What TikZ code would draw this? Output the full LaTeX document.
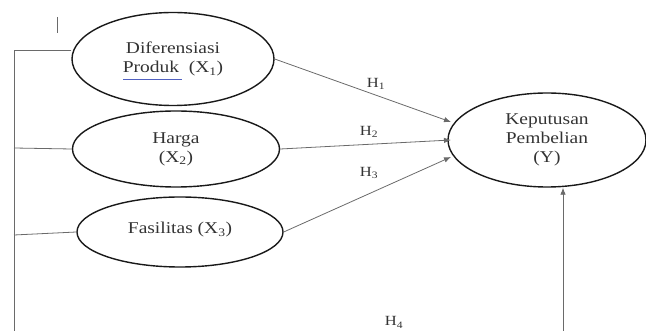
\documentclass[tikz,border=0pt]{standalone}
\usepackage{fontspec}
\setmainfont{Liberation Serif}[FakeStretch=1.18]
\usetikzlibrary{arrows.meta,shapes.geometric}
\definecolor{txt}{HTML}{333333}
\definecolor{lin}{HTML}{6A6A6A}
\definecolor{ulblue}{HTML}{5060C0}
\begin{document}
\begin{tikzpicture}[x=1pt,y=-1pt,
  var/.style={draw=black!90,line width=1.4pt,ellipse,inner sep=0pt,align=center,text=txt,font=\fontsize{16.5}{19}\selectfont},
  conn/.style={draw=lin,line width=0.8pt},
  arr/.style={conn,-{Latex[length=7pt,width=5.5pt]}},
  hlab/.style={text=txt,font=\fontsize{14}{16}\selectfont,inner sep=0pt}]
\useasboundingbox (0,0) rectangle (646,331);
\clip (0,0) rectangle (646,331);
\node[var,minimum width=202pt,minimum height=93pt] (x1) at (173,59) {Diferensiasi\\Produk\ \ (X\textsubscript{1})};
\node[var,minimum width=207pt,minimum height=76pt] (x2) at (176,149) {Harga\\(X\textsubscript{2})};
\node[var,minimum width=206pt,minimum height=70pt] (x3) at (180,232) {\raisebox{8pt}{Fasilitas (X\textsubscript{3})}};
\node[var,minimum width=198pt,minimum height=94pt] (y) at (547,140) {Keputusan\\Pembelian\\(Y)};
\coordinate (tl) at (14,50);
\coordinate (bl) at (14,331);
\coordinate (b2) at (14,148);
\coordinate (b3) at (14,235);
\coordinate (tk1) at (57,17);
\coordinate (tk2) at (57,33);
\coordinate (ul1) at (123,79);
\coordinate (ul2) at (182,79);
\coordinate (yb) at (563,331);
\coordinate (h1e) at (451,122);
\coordinate (h2e) at (451,140);
\coordinate (h3e) at (451,157);
\draw[conn,line width=1pt] (tk1) -- (tk2);
\draw[ulblue,line width=0.8pt] (ul1) -- (ul2);
\draw[conn] (x1.west |- tl) -- (tl) -- (bl);
\draw[conn] (b2) -- (x2.west);
\draw[conn] (b3) -- (x3.west);
\draw[arr] (x1.east) -- (h1e);
\draw[arr] (x2.east) -- (h2e);
\draw[arr] (x3.east) -- (h3e);
\draw[arr] (yb) -- (y.south -| yb);
\node[hlab] (l1) at (376,84) {H\textsubscript{1}};
\node[hlab] (l2) at (369,132) {H\textsubscript{2}};
\node[hlab] (l3) at (369,173) {H\textsubscript{3}};
\node[hlab,anchor=base] (l4) at (394,326) {H\textsubscript{4}};
\end{tikzpicture}
\end{document}
